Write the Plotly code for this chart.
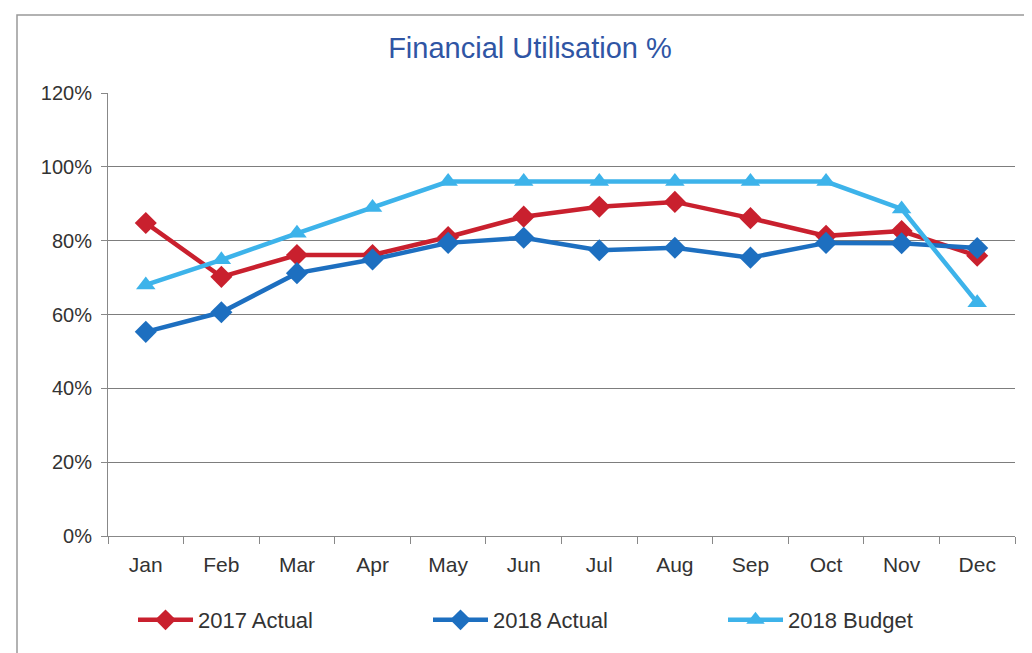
import plotly.graph_objects as go

months = ["Jan", "Feb", "Mar", "Apr", "May", "Jun", "Jul", "Aug", "Sep", "Oct", "Nov", "Dec"]
actual_2017 = [84.8, 70.2, 76.1, 76.1, 81.0, 86.5, 89.2, 90.5, 86.1, 81.3, 82.6, 75.9]
actual_2018 = [55.3, 60.6, 71.2, 74.9, 79.4, 80.8, 77.4, 78.1, 75.4, 79.4, 79.3, 78.0]
budget_2018 = [68.0, 74.8, 82.0, 89.0, 96.0, 96.0, 96.0, 96.0, 96.0, 96.0, 88.6, 63.2]
y_ticks = [0, 20, 40, 60, 80, 100, 120]

font_family = "Liberation Sans Narrow, Liberation Sans, Arial"

# page offset (default body margin of the html page)
OFF = 8
L, R, T, B = 108 - OFF, 1032 - 1015 + OFF, 93 - OFF, 653 - 536 + OFF
PW = 1032 - L - R
PH = 653 - T - B

fig = go.Figure()
series = [
    ("2017 Actual", actual_2017, "#c9202e", "diamond", 17),
    ("2018 Actual", actual_2018, "#1d6fc0", "diamond", 17),
    ("2018 Budget", budget_2018, "#3db3ea", "triangle-up", 17),
]
for name, vals, color, sym, size in series:
    fig.add_trace(go.Scatter(
        x=months, y=vals, name=name, mode="lines+markers",
        line=dict(color=color, width=4.5),
        marker=dict(symbol=sym, size=size, color=color),
    ))

fig.update_layout(
    width=1032, height=653,
    paper_bgcolor="white", plot_bgcolor="white",
    margin=dict(l=L, r=R, t=T, b=B),
    title=dict(text="Financial Utilisation %", x=(530 - 108) / PW, xref="paper", xanchor="center",
               y=1 - (48 - OFF) / 653, yanchor="middle",
               font=dict(family=font_family, size=29, color="#2f55a4")),
    font=dict(family=font_family, size=18, color="#333333"),
    showlegend=True,
    legend=dict(orientation="h", x=(133 - 108) / PW, xanchor="left",
                y=(536 - 620) / PH, yanchor="middle",
                entrywidth=225, entrywidthmode="pixels", itemwidth=55,
                font=dict(family=font_family, size=22, color="#333333"),
                bgcolor="rgba(0,0,0,0)"),
    xaxis=dict(type="category", range=[-0.5, len(months) - 0.5], autorange=False,
               showgrid=False, showline=True, linecolor="#888888", linewidth=1,
               ticks="outside", tickson="boundaries", ticklen=7, tickcolor="#888888",
               ticklabelstandoff=10,
               tickfont=dict(size=21, color="#333333"), zeroline=False),
    yaxis=dict(range=[0, 120], tickvals=y_ticks, ticktext=[f"{v}%" for v in y_ticks],
               showgrid=True, gridcolor="#7d7d7d", gridwidth=1.2,
               showline=True, linecolor="#888888", linewidth=1,
               ticks="outside", ticklen=6, tickcolor="#888888",
               ticklabelstandoff=5,
               tickfont=dict(size=20, color="#333333"), zeroline=False),
    shapes=[dict(type="rect", xref="paper", yref="paper",
                 x0=(17 - 108) / PW, x1=1.2, y0=-0.5, y1=(536 - 15) / PH,
                 line=dict(color="#999999", width=1.5), fillcolor="rgba(0,0,0,0)", layer="below")],
)

fig.write_html("out.html")
